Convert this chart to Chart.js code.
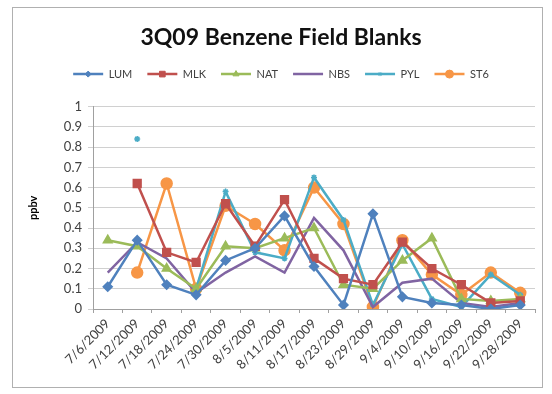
<!DOCTYPE html>
<html>
<head>
<meta charset="utf-8">
<script src="https://cdn.jsdelivr.net/npm/chart.js@4"></script>
<style>
  html, body { margin: 0; padding: 0; background: #ffffff; }
  #wrap { width: 552px; height: 394px; position: relative; }
</style>
</head>
<body>
<div id="wrap"><canvas id="c" width="552" height="394"></canvas></div>
<script>
// Sampling dates (every 6 days, 3rd quarter 2009)
const dates = ['7/6/2009','7/12/2009','7/18/2009','7/24/2009','7/30/2009','8/5/2009','8/11/2009',
  '8/17/2009','8/23/2009','8/29/2009','9/4/2009','9/10/2009','9/16/2009','9/22/2009','9/28/2009'];

// Benzene field blank results by site, ppbv (null = no sample)
const LUM = [0.11, 0.34, 0.12, 0.07, 0.24, 0.30, 0.46, 0.21, 0.02, 0.47, 0.06, 0.03, 0.02, 0.00, 0.02];
const MLK = [null, 0.62, 0.28, 0.23, 0.52, 0.31, 0.54, 0.25, 0.15, 0.12, 0.33, 0.20, 0.12, 0.03, 0.04];
const NAT = [0.34, 0.31, 0.20, 0.10, 0.31, 0.30, 0.35, 0.40, 0.12, 0.10, 0.24, 0.35, 0.05, 0.04, 0.05];
const NBS = [0.18, 0.33, 0.25, 0.08, 0.18, 0.26, 0.18, 0.45, 0.29, 0.01, 0.13, 0.15, 0.03, 0.01, 0.03];
const PYL = [null, 0.84, null, 0.10, 0.58, 0.28, 0.25, 0.65, 0.44, 0.02, 0.32, 0.05, 0.01, 0.17, 0.07];
const ST6 = [null, 0.18, 0.62, 0.10, 0.51, 0.42, 0.29, 0.60, 0.42, 0.01, 0.34, 0.17, 0.07, 0.18, 0.08];

const yTicks = [0, 0.1, 0.2, 0.3, 0.4, 0.5, 0.6, 0.7, 0.8, 0.9, 1];

const series = [
  { label: 'LUM', data: LUM, color: '#4F81BD', style: 'rectRot', r: 4.5 },
  { label: 'MLK', data: MLK, color: '#C0504D', style: 'rect', r: 5.5 },
  { label: 'NAT', data: NAT, color: '#9BBB59', style: 'triangle', r: 5 },
  { label: 'NBS', data: NBS, color: '#8064A2', style: 'crossRot', r: 0 },
  { label: 'PYL', data: PYL, color: '#4BACC6', style: 'star', r: 3 },
  { label: 'ST6', data: ST6, color: '#F79646', style: 'circle', r: 5.5 }
];

const FONT = "Lato, 'Open Sans', sans-serif";

// Frame around the whole chart
const framePlugin = {
  id: 'frame',
  beforeDraw(chart) {
    const ctx = chart.ctx;
    ctx.save();
    ctx.fillStyle = '#ffffff';
    ctx.fillRect(0, 0, chart.width, chart.height);
    ctx.strokeStyle = '#b0b0b0';
    ctx.lineWidth = 1;
    ctx.strokeRect(12.5, 7.5, 530, 380);
    ctx.restore();
  }
};

// Extra room below the legend, and legend entries drawn as a line with the marker on it
const legendMarkers = {
  id: 'legendMarkers',
  afterInit(chart) {
    const legend = chart.legend;
    if (!legend) return;
    const fit = legend.fit;
    legend.fit = function () {
      fit.call(this);
      this.height += 17;
    };
  },
  afterDraw(chart) {
    const legend = chart.legend;
    if (!legend || !legend.legendHitBoxes) return;
    const ctx = chart.ctx;
    const bw = legend.options.labels.boxWidth;
    legend.legendHitBoxes.forEach((box, i) => {
      const s = series[i];
      if (!s.r) return;
      const cx = box.left + bw / 2;
      const cy = box.top + box.height / 2;
      ctx.save();
      ctx.fillStyle = s.color;
      ctx.strokeStyle = s.color;
      Chart.helpers.drawPoint(ctx, {
        pointStyle: s.style, radius: Math.max(s.r - 1.5, 2), rotation: 0, borderWidth: 1.5
      }, cx, cy);
      ctx.restore();
    });
  }
};

const ctx = document.getElementById('c').getContext('2d');
const chart = new Chart(ctx, {
  type: 'line',
  data: {
    labels: dates,
    datasets: series.map(s => ({
      label: s.label,
      data: s.data,
      borderColor: s.color,
      backgroundColor: s.color,
      pointBackgroundColor: s.color,
      pointBorderColor: s.color,
      pointStyle: s.style,
      pointRadius: s.r,
      pointBorderWidth: 1.5,
      borderWidth: 2.5,
      tension: 0,
      spanGaps: false
    }))
  },
  options: {
    responsive: false,
    animation: false,
    devicePixelRatio: 1,
    layout: { padding: { left: 27, right: 17, top: 20, bottom: 8 } },
    plugins: {
      title: {
        display: true,
        text: '3Q09 Benzene Field Blanks',
        color: '#111111',
        font: { family: FONT, size: 23, weight: 'bold' },
        padding: { top: 4, bottom: 2 }
      },
      legend: {
        display: true,
        position: 'top',
        labels: {
          color: '#404040',
          font: { family: FONT, size: 11 },
          boxWidth: 30,
          boxHeight: 2.5,
          padding: 15,
          generateLabels(chart) {
            return series.map((s, i) => ({
              text: s.label,
              fillStyle: s.color,
              strokeStyle: s.color,
              lineWidth: 0,
              datasetIndex: i,
              fontColor: '#404040'
            }));
          }
        }
      },
      tooltip: { enabled: false }
    },
    scales: {
      x: {
        type: 'category',
        offset: true,
        grid: {
          display: true,
          drawOnChartArea: false,
          drawTicks: true,
          tickLength: 4,
          color: '#a0a0a0',
          offset: true
        },
        border: { display: true, color: '#a0a0a0' },
        ticks: {
          color: '#404040',
          font: { family: FONT, size: 13 },
          maxRotation: 45,
          minRotation: 45,
          autoSkip: false,
          padding: 3
        },
        afterFit(scale) { scale.height = 77; }
      },
      y: {
        min: 0,
        max: 1,
        afterBuildTicks(scale) { scale.ticks = yTicks.map(v => ({ value: v })); },
        grid: { color: '#d0d0d0', lineWidth: 1, drawTicks: true, tickLength: 5 },
        border: { display: true, color: '#a0a0a0' },
        ticks: {
          color: '#404040',
          font: { family: FONT, size: 13 },
          padding: 6,
          callback: v => String(Math.round(v * 10) / 10)
        },
        title: {
          display: true,
          text: 'ppbv',
          color: '#000000',
          font: { family: FONT, size: 11, weight: 'bold' },
          padding: { top: 0, bottom: 10 }
        },
        afterFit(scale) { scale.width = 66; }
      }
    }
  },
  plugins: [framePlugin, legendMarkers]
});
</script>
</body>
</html>
